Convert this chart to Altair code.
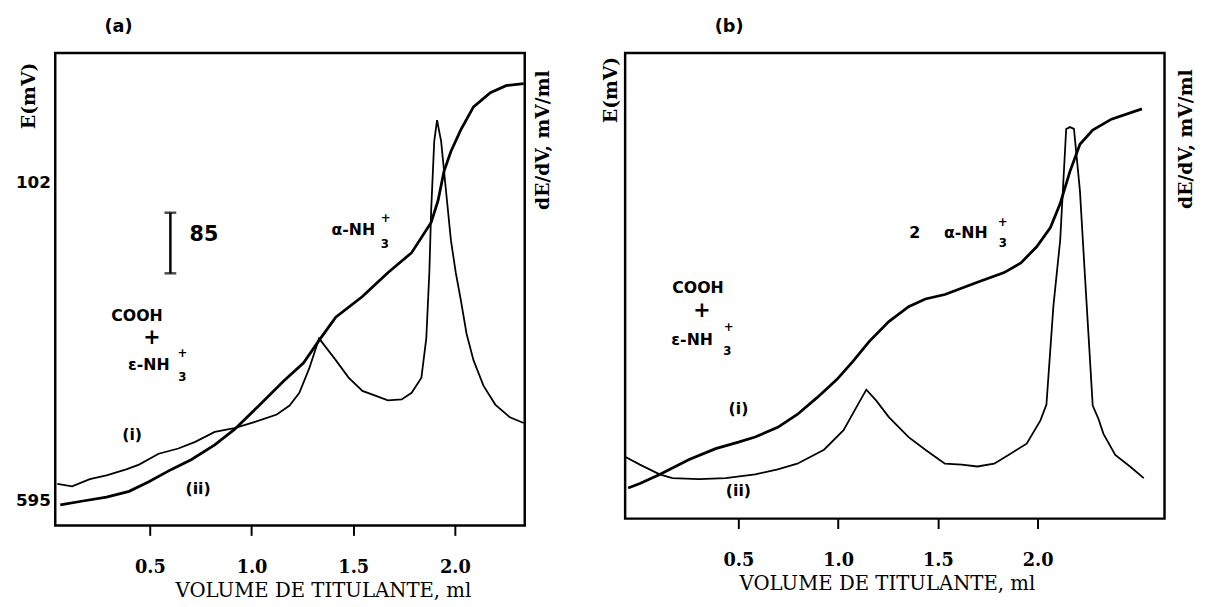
import altair as alt
import pandas as pd

# ---------------- data ----------------
x_ticks = [0.5, 1.0, 1.5, 2.0]

# panel (a): potential curve E (mV) and derivative curve dE/dV (relative units)
a_E_ml = [0.060, 0.171, 0.287, 0.398, 0.495, 0.606, 0.703, 0.819, 0.916, 1.027,
          1.158, 1.255, 1.332, 1.414, 1.545, 1.670, 1.787, 1.883, 1.917, 1.946,
          1.980, 2.028, 2.091, 2.174, 2.251, 2.338]
a_E_mv = [601, 595, 589, 580, 565, 546, 531, 508, 484, 450,
          409, 381, 346, 310, 278, 241, 210, 163, 129, 84,
          53, 20, -16, -38, -49, -52]
a_D_ml = [0.045, 0.118, 0.205, 0.287, 0.384, 0.447, 0.543, 0.640, 0.723, 0.819,
          0.916, 1.013, 1.124, 1.187, 1.235, 1.284, 1.332, 1.414, 1.477, 1.545,
          1.608, 1.670, 1.738, 1.787, 1.835, 1.859, 1.874, 1.883, 1.898, 1.912,
          1.932, 1.956, 1.980, 2.004, 2.028, 2.057, 2.091, 2.140, 2.198, 2.270,
          2.338]
a_D_val = [8.8, 8.3, 9.8, 10.6, 11.9, 12.9, 15.2, 16.3, 17.7, 19.8,
           20.6, 21.9, 23.5, 25.4, 28.1, 33.3, 39.6, 35.0, 31.3, 28.5,
           27.5, 26.5, 26.7, 28.1, 31.3, 39.6, 53.5, 66.7, 81.3, 85.8,
           81.3, 70.8, 60.4, 53.5, 47.9, 40.6, 35.0, 29.6, 25.6, 22.9,
           21.7]
a_E_ticks = [102, 595]

# panel (b)
b_E_ml = [-0.053, 0.006, 0.105, 0.253, 0.386, 0.500, 0.584, 0.697, 0.795, 0.894,
          0.993, 1.076, 1.155, 1.254, 1.353, 1.437, 1.535, 1.698, 1.832, 1.916,
          1.995, 2.064, 2.113, 2.162, 2.212, 2.276, 2.370, 2.523]
b_E_mv = [575, 568, 554, 531, 514, 504, 496, 481, 461, 435,
          407, 378, 348, 317, 294, 282, 275, 256, 241, 226,
          201, 171, 134, 84, 42, 20, 3, -13]
b_D_ml = [-0.068, 0.006, 0.105, 0.169, 0.302, 0.436, 0.584, 0.697, 0.795, 0.929,
          1.027, 1.091, 1.141, 1.190, 1.254, 1.353, 1.437, 1.486, 1.535, 1.619,
          1.698, 1.782, 1.866, 1.945, 2.014, 2.044, 2.079, 2.113, 2.143, 2.162,
          2.182, 2.212, 2.236, 2.261, 2.276, 2.305, 2.330, 2.389, 2.463, 2.532]
b_D_val = [13.3, 11.6, 9.5, 8.7, 8.5, 8.7, 9.5, 10.6, 11.8, 14.8,
           19.0, 23.9, 27.7, 25.4, 21.8, 17.5, 14.8, 13.3, 11.8, 11.6,
           11.2, 11.8, 14.0, 16.1, 21.1, 24.5, 45.7, 59.8, 83.7, 84.1,
           83.7, 70.4, 52.9, 35.1, 24.3, 21.4, 18.2, 13.7, 11.2, 8.7]

# annotations (text, ml, mV)
a_lab_text = ["COOH", "ε-NH", "(i)", "(ii)", "α-NH"]
a_lab_ml = [0.437, 0.495, 0.413, 0.737, 1.500]
a_lab_mv = [308, 384, 493, 577, 175]
a_plus_ml = [0.510]
a_plus_mv = [343]
a_sub_text = ["3", "+", "3", "+"]
a_sub_ml = [0.660, 0.660, 1.655, 1.660]
a_sub_mv = [403, 366, 197, 157]
a_bar_ml = [0.601]
a_bar_lo = [148]
a_bar_hi = [242]
a_bar_text = ["85"]
a_bar_text_ml = [0.766]
a_bar_text_mv = [183]

b_lab_text = ["COOH", "ε-NH", "(i)", "(ii)", "2", "α-NH"]
b_lab_ml = [0.297, 0.268, 0.500, 0.500, 1.384, 1.640]
b_lab_mv = [265, 346, 453, 580, 180, 180]
b_plus_ml = [0.317]
b_plus_mv = [300]
b_sub_text = ["3", "+", "+", "3"]
b_sub_ml = [0.445, 0.451, 1.825, 1.825]
b_sub_mv = [363, 325, 163, 195]

FS = "DejaVu Serif"
FB = "DejaVu Sans"


def x_axis(title_x):
    return alt.Axis(values=x_ticks, format=".1f", tickSize=10, tickWidth=2,
                    tickColor="black", domain=False, grid=False,
                    labelFont=FS, labelFontSize=18, labelFontWeight="bold",
                    labelColor="black", labelPadding=24,
                    title="VOLUME DE TITULANTE, ml", titleFont=FS,
                    titleFontSize=20, titleFontWeight="normal", titleColor="black",
                    titleX=title_x, titleY=66, titleBaseline="middle",
                    titleAlign="center")


def panel(E_ml, E_mv, D_ml, D_val, lab_text, lab_ml, lab_mv, plus_ml, plus_mv,
          sub_text, sub_ml, sub_mv, x_dom, e_dom, w, h, e_vals, xt_x,
          et_x, et_y, dt_x, dt_y, letter, letter_dx, extra=None):
    xsc = alt.Scale(domain=x_dom, nice=False, zero=False)
    xax = x_axis(xt_x)
    esc = alt.Scale(domain=e_dom, reverse=True, nice=False, zero=False)
    eax = alt.Axis(orient="left", values=e_vals, labels=len(e_vals) > 0,
                   ticks=False, domain=False, grid=False,
                   labelFont=FB, labelFontSize=17, labelFontWeight="bold",
                   labelColor="black", labelPadding=5,
                   title="E(mV)", titleFont=FS, titleFontSize=19,
                   titleFontWeight="bold", titleColor="black", titleAngle=270,
                   titleX=et_x, titleY=et_y, titleAlign="center",
                   titleBaseline="middle")
    dsc = alt.Scale(domain=[0, 100], nice=False, zero=False)
    dax = alt.Axis(orient="right", labels=False, ticks=False, domain=False,
                   grid=False, title="dE/dV, mV/ml", titleFont=FS,
                   titleFontSize=19, titleFontWeight="bold", titleColor="black",
                   titleAngle=270, titleX=dt_x, titleY=dt_y, titleAlign="center",
                   titleBaseline="middle")

    X = lambda: alt.X("ml:Q", scale=xsc, axis=xax)
    YE = lambda f="E": alt.Y(f"{f}:Q", scale=esc, axis=eax)

    df_e = pd.DataFrame({"ml": E_ml, "E": E_mv, "i": list(range(len(E_ml)))})
    df_d = pd.DataFrame({"ml": D_ml, "D": D_val, "i": list(range(len(D_ml)))})
    df_l = pd.DataFrame({"ml": lab_ml, "E": lab_mv, "t": lab_text})
    df_p = pd.DataFrame({"ml": plus_ml, "E": plus_mv, "t": ["+"] * len(plus_ml)})
    df_s = pd.DataFrame({"ml": sub_ml, "E": sub_mv, "t": sub_text})

    e_line = alt.Chart(df_e).mark_line(color="black", strokeWidth=2.8).encode(
        x=X(), y=YE(), order="i:Q")
    labs = alt.Chart(df_l).mark_text(font=FB, fontSize=16, fontWeight="bold",
                                     color="black", align="center",
                                     baseline="middle").encode(
        x=X(), y=YE(), text="t:N")
    plus = alt.Chart(df_p).mark_text(font=FB, fontSize=21, fontWeight="bold",
                                     color="black", align="center",
                                     baseline="middle").encode(
        x=X(), y=YE(), text="t:N")
    subs = alt.Chart(df_s).mark_text(font=FB, fontSize=12, fontWeight="bold",
                                     color="black", align="center",
                                     baseline="middle").encode(
        x=X(), y=YE(), text="t:N")
    inner_layers = [e_line, labs, plus, subs]
    if extra is not None:
        bml, blo, bhi, btxt, btml, btmv = extra
        df_b = pd.DataFrame({"ml": bml, "lo": blo, "hi": bhi})
        df_c = pd.DataFrame({"ml": bml * 2, "E": blo + bhi})
        df_bt = pd.DataFrame({"ml": btml, "E": btmv, "t": btxt})
        rule = alt.Chart(df_b).mark_rule(color="black", strokeWidth=2.5).encode(
            x=X(), y=YE("lo"), y2="hi:Q")
        caps = alt.Chart(df_c).mark_tick(color="black", orient="horizontal",
                                         size=12, thickness=2.5).encode(
            x=X(), y=YE())
        btext = alt.Chart(df_bt).mark_text(font=FB, fontSize=21,
                                           fontWeight="bold", color="black",
                                           align="center",
                                           baseline="middle").encode(
            x=X(), y=YE(), text="t:N")
        inner_layers += [rule, caps, btext]
    inner = alt.layer(*inner_layers)
    d_line = alt.Chart(df_d).mark_line(color="black", strokeWidth=1.8).encode(
        x=X(), y=alt.Y("D:Q", scale=dsc, axis=dax), order="i:Q")
    return alt.layer(inner, d_line).resolve_scale(y="independent").properties(
        width=w, height=h,
        title=alt.TitleParams(text=letter, anchor="start", frame="group",
                              dx=letter_dx, offset=17, font=FB, fontSize=18,
                              fontWeight="bold", color="black"))


pa = panel(a_E_ml, a_E_mv, a_D_ml, a_D_val, a_lab_text, a_lab_ml, a_lab_mv,
           a_plus_ml, a_plus_mv, a_sub_text, a_sub_ml, a_sub_mv,
           [0.035, 2.343], [-99.5, 633], 477, 480, a_E_ticks, 272,
           -27, 43, 18, 88, "(a)", 50,
           extra=(a_bar_ml, a_bar_lo, a_bar_hi, a_bar_text, a_bar_text_ml,
                  a_bar_text_mv))
pb = panel(b_E_ml, b_E_mv, b_D_ml, b_D_val, b_lab_text, b_lab_ml, b_lab_mv,
           b_plus_ml, b_plus_mv, b_sub_text, b_sub_ml, b_sub_mv,
           [-0.068, 2.636], [-99.5, 622.6], 548, 473, [], 266,
           -15, 37, 21, 87, "(b)", 91)

chart = alt.hconcat(pa, pb, spacing=46).properties(
    padding={"left": 6, "top": 4, "right": 0, "bottom": 0},
    background="white",
).configure_view(stroke="black", strokeWidth=2.5)

chart.save("out.html", embed_options={"renderer": "svg", "actions": False})
